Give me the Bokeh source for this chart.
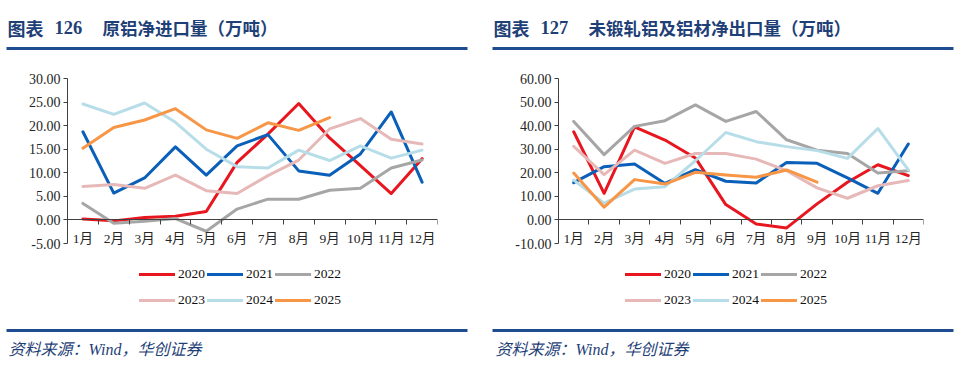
from bokeh.plotting import figure
from bokeh.layouts import column, row
from bokeh.models import Range1d, FixedTicker, NumeralTickFormatter, Legend, LegendItem
from bokeh.core.properties import value
from bokeh.embed import file_html
from bokeh.resources import INLINE

# ---------------- data ----------------
months = ["1月", "2月", "3月", "4月", "5月", "6月", "7月", "8月", "9月", "10月", "11月", "12月"]
years = ["2020", "2021", "2022", "2023", "2024", "2025"]

imp_2020 = [0.2, -0.2, 0.5, 0.8, 1.8, 12.2, 18.2, 24.7, 17.4, 11.5, 5.6, 13.0]
imp_2021 = [18.7, 5.7, 8.9, 15.5, 9.5, 15.7, 18.1, 10.4, 9.5, 14.0, 22.9, 8.0]
imp_2022 = [3.5, -0.7, -0.3, 0.3, -2.4, 2.3, 4.4, 4.4, 6.3, 6.7, 11.0, 12.7]
imp_2023 = [7.1, 7.5, 6.7, 9.5, 6.2, 5.6, 9.4, 12.7, 19.3, 21.5, 17.1, 16.1]
imp_2024 = [24.6, 22.4, 24.8, 20.7, 15.0, 11.3, 11.0, 14.8, 12.6, 15.7, 13.1, 14.8]
imp_2025 = [15.2, 19.6, 21.2, 23.6, 19.1, 17.3, 20.6, 19.0, 21.7]

exp_2020 = [37.4, 11.3, 39.5, 33.9, 26.3, 6.5, -1.7, -3.4, 6.8, 16.0, 23.4, 18.8]
exp_2021 = [15.8, 22.6, 23.7, 15.5, 21.3, 16.4, 15.7, 24.4, 24.0, 17.8, 11.3, 32.2]
exp_2022 = [41.8, 27.7, 39.7, 42.1, 48.8, 41.8, 46.0, 34.0, 29.6, 28.2, 19.9, 20.9]
exp_2023 = [31.2, 19.2, 29.6, 24.0, 28.2, 28.2, 25.8, 20.9, 13.6, 9.2, 14.5, 16.7]
exp_2024 = [16.9, 7.1, 13.1, 14.1, 25.1, 37.1, 33.2, 31.1, 29.4, 26.1, 38.8, 21.2]
exp_2025 = [19.9, 5.4, 17.1, 15.2, 20.2, 19.1, 18.1, 21.2, 16.0]

imp_series = [imp_2020, imp_2021, imp_2022, imp_2023, imp_2024, imp_2025]
exp_series = [exp_2020, exp_2021, exp_2022, exp_2023, exp_2024, exp_2025]

imp_ticks = [-5, 0, 5, 10, 15, 20, 25, 30]
exp_ticks = [-10, 0, 10, 20, 30, 40, 50, 60]

title_left = ("图表", "126", "原铝净进口量（万吨）")
title_right = ("图表", "127", "未锻轧铝及铝材净出口量（万吨）")
source_text = "资料来源：Wind，华创证券"

# ---------------- styles ----------------
colors = ["#E8161E", "#0A5FB8", "#A6A6A6", "#E6B9B8", "#B7DEE8", "#F79646"]
NAVY = "#1F3F77"
RULE = "#1D4D8F"
AXIS = "#404040"
SERIF = "Liberation Serif, Noto Sans CJK SC"

AXIS_PX = 165      # pixel height of the value axis
FRAME_PX = 240     # frame height incl. legend area below the axis


def make_chart(series, ticks, frame_w, left_b, right_b, leg_x):
    lo, hi = ticks[0], ticks[-1]
    y_start = hi - (hi - lo) * FRAME_PX / AXIS_PX
    p = figure(frame_width=frame_w, frame_height=FRAME_PX,
               min_border_left=left_b, min_border_right=right_b,
               min_border_top=22, min_border_bottom=0,
               x_range=Range1d(0.5, 12.5), y_range=Range1d(y_start, hi),
               output_backend="svg", toolbar_location=None)
    p.outline_line_color = None
    p.grid.visible = False
    p.background_fill_color = "white"
    p.border_fill_color = "white"

    xa = p.xaxis[0]
    xa.fixed_location = 0
    xa.ticker = FixedTicker(ticks=list(range(1, 13)),
                            minor_ticks=[i + 0.5 for i in range(0, 13)])
    xa.major_label_overrides = {i + 1: m for i, m in enumerate(months)}
    xa.major_tick_in = 0
    xa.major_tick_out = 0
    xa.minor_tick_in = 0
    xa.minor_tick_out = 5
    xa.minor_tick_line_color = AXIS
    xa.axis_line_color = AXIS
    xa.major_label_standoff = 6
    xa.major_label_text_font = SERIF
    xa.major_label_text_font_size = "13.5px"
    xa.major_label_text_color = "#262626"

    ya = p.yaxis[0]
    ya.bounds = (lo, hi)
    ya.ticker = FixedTicker(ticks=ticks, minor_ticks=[])
    ya.formatter = NumeralTickFormatter(format="0.00")
    ya.major_tick_in = 0
    ya.major_tick_out = 4
    ya.major_tick_line_color = AXIS
    ya.axis_line_color = AXIS
    ya.major_label_standoff = 3
    ya.major_label_text_font = SERIF
    ya.major_label_text_font_size = "14px"
    ya.major_label_text_color = "#262626"

    items = []
    for yr, vals, c in zip(years, series, colors):
        xs = list(range(1, len(vals) + 1))
        r = p.line(xs, vals, line_width=3, line_color=c, line_join="round", line_cap="round")
        items.append(LegendItem(label=yr, renderers=[r]))

    leg = Legend(items=items, location=(leg_x, 6), orientation="horizontal", ncols=3,
                 glyph_width=36, glyph_height=24, label_height=24, label_standoff=3,
                 spacing=2, padding=0, margin=0,
                 border_line_alpha=0, background_fill_alpha=0,
                 label_text_font=SERIF, label_text_font_size="13.5px",
                 label_text_color="#111111")
    p.add_layout(leg, "center")
    return p


def band(height):
    f = figure(width=960, height=height, x_range=Range1d(0, 960), y_range=Range1d(height, 0),
               x_axis_location=None, y_axis_location=None,
               min_border=0, output_backend="svg", toolbar_location=None)
    f.outline_line_color = None
    f.grid.visible = False
    return f


# header
header = band(56)
for (a, b, c), x0 in ((title_left, 7), (title_right, 493)):
    header.text(x=[x0], y=[27], text=[a], text_font=value("Noto Sans CJK SC"),
                text_font_style="bold", text_font_size="18px", text_color=NAVY,
                text_baseline="middle", text_align="left")
    header.text(x=[x0 + 47], y=[27], text=[b], text_font=value("Liberation Serif"),
                text_font_style="bold", text_font_size="18.5px", text_color=NAVY,
                text_baseline="middle", text_align="left")
    header.text(x=[x0 + 95], y=[27], text=[c], text_font=value("Noto Sans CJK SC"),
                text_font_style="bold", text_font_size="17.5px", text_color=NAVY,
                text_baseline="middle", text_align="left")
header.segment(x0=[6, 492], y0=[48, 48], x1=[467, 953], y1=[48, 48],
               line_color=RULE, line_width=3)

p1 = make_chart(imp_series, imp_ticks, 370, 67, 43, 72)
p2 = make_chart(exp_series, exp_ticks, 365, 78, 37, 67)

footer = band(55)
footer.segment(x0=[6, 492], y0=[12, 12], x1=[467, 953], y1=[12, 12],
               line_color=RULE, line_width=3)
footer.text(x=[8, 495], y=[31, 31], text=[source_text, source_text],
            text_font=value("Liberation Serif, Noto Sans CJK SC"), text_font_style="italic",
            text_font_size="16px", text_color=NAVY,
            text_baseline="middle", text_align="left")

layout = column(header, row(p1, p2), footer)
open("out.html", "w").write(file_html(layout, INLINE))
